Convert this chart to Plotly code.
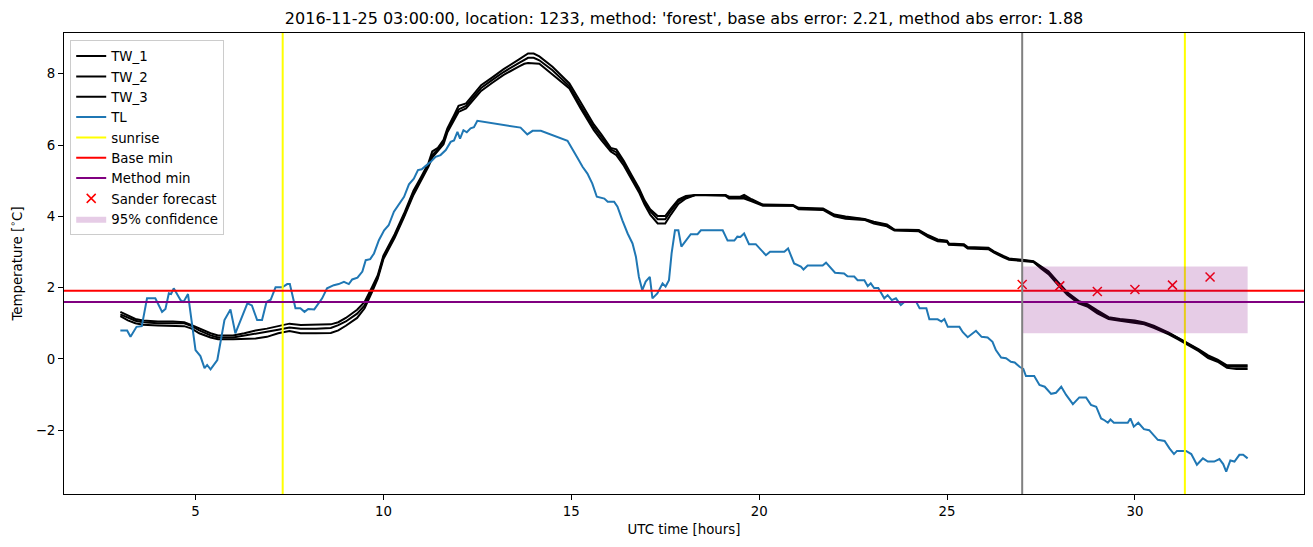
import plotly.graph_objects as go

# ---------------- data ----------------
tw_time = [3.0, 3.2, 3.4, 3.6, 4.0, 4.4, 4.7, 4.9, 5.1, 5.4, 5.6, 6.0, 6.3, 6.6, 6.9, 7.2, 7.5, 7.8, 8.2, 8.6,
           8.8, 9.0, 9.3, 9.5, 9.7, 9.85, 10.0, 10.3, 10.55, 10.8, 11.0, 11.2, 11.3, 11.45, 11.6, 11.7, 11.9,
           12.0, 12.2, 12.4, 12.6, 12.9, 13.2, 13.6, 13.75, 13.85, 14.0, 14.15, 14.5, 14.95, 15.25, 15.6,
           15.8, 16.05, 16.2, 16.4, 16.6, 16.8, 16.95, 17.1, 17.3, 17.5, 17.65, 17.85, 18.05, 18.3, 19.1,
           19.2, 19.5, 19.6, 19.8, 20.1, 20.9, 21.05, 21.7, 22.0, 22.3, 22.8, 23.05, 23.4, 23.6, 24.25,
           24.5, 24.75, 25.0, 25.05, 25.45, 25.55, 26.1, 26.25, 26.5, 26.65, 27.0, 27.3, 27.5, 27.7, 27.95,
           28.2, 28.5, 28.75, 29.0, 29.3, 29.6, 30.0, 30.25, 30.5, 30.9, 31.15, 31.4, 31.7, 31.95, 32.2,
           32.45, 32.7, 33.0]

tw_1 = [1.32, 1.22, 1.12, 1.08, 1.05, 1.05, 1.03, 0.95, 0.85, 0.72, 0.66, 0.66, 0.72, 0.8, 0.85, 0.92, 0.99,
        0.95, 0.95, 0.97, 1.03, 1.15, 1.38, 1.6, 2.02, 2.35, 2.9, 3.5, 4.08, 4.72, 5.1, 5.5, 5.82, 5.92,
        6.15, 6.46, 6.88, 7.1, 7.17, 7.42, 7.68, 7.9, 8.13, 8.4, 8.5, 8.57, 8.57, 8.49, 8.2, 7.73, 7.2,
        6.58, 6.3, 5.92, 5.88, 5.55, 5.17, 4.8, 4.45, 4.2, 4.01, 4.01, 4.22, 4.47, 4.57, 4.6, 4.6, 4.55,
        4.55, 4.6, 4.48, 4.33, 4.32, 4.24, 4.22, 4.05, 4.0, 3.93, 3.85, 3.77, 3.63, 3.62, 3.47, 3.35,
        3.32, 3.24, 3.22, 3.14, 3.12, 3.02, 2.89, 2.82, 2.78, 2.74, 2.6, 2.46, 2.16, 1.87, 1.63, 1.53,
        1.36, 1.17, 1.12, 1.08, 1.02, 0.93, 0.74, 0.6, 0.45, 0.27, 0.1, -0.02, -0.18, -0.18, -0.18]

tw_2 = [1.25, 1.15, 1.07, 1.03, 1.0, 1.0, 1.0, 0.92, 0.8, 0.66, 0.6, 0.6, 0.65, 0.7, 0.75, 0.82, 0.88, 0.85,
        0.85, 0.87, 0.95, 1.05, 1.27, 1.5, 1.95, 2.3, 2.85, 3.45, 4.03, 4.65, 5.05, 5.45, 5.72, 5.88, 6.1,
        6.4, 6.8, 7.0, 7.1, 7.35, 7.6, 7.83, 8.05, 8.3, 8.4, 8.45, 8.45, 8.38, 8.1, 7.65, 7.1, 6.5, 6.22,
        5.88, 5.8, 5.5, 5.12, 4.75, 4.4, 4.15, 3.92, 3.92, 4.15, 4.42, 4.53, 4.6, 4.6, 4.52, 4.52, 4.55,
        4.45, 4.32, 4.3, 4.22, 4.2, 4.03, 3.97, 3.92, 3.83, 3.75, 3.62, 3.6, 3.45, 3.33, 3.3, 3.22, 3.2,
        3.12, 3.1, 3.0, 2.87, 2.8, 2.77, 2.73, 2.57, 2.42, 2.12, 1.84, 1.6, 1.5, 1.32, 1.15, 1.1, 1.05,
        1.0, 0.9, 0.72, 0.58, 0.42, 0.25, 0.06, -0.05, -0.2, -0.22, -0.22]

tw_3 = [1.2, 1.08, 1.0, 0.96, 0.94, 0.94, 0.92, 0.85, 0.72, 0.6, 0.55, 0.55, 0.56, 0.57, 0.62, 0.72, 0.78,
        0.72, 0.72, 0.73, 0.8, 0.93, 1.15, 1.42, 1.88, 2.25, 2.8, 3.4, 3.98, 4.6, 5.0, 5.4, 5.65, 5.82,
        6.02, 6.35, 6.72, 6.93, 7.03, 7.28, 7.52, 7.75, 7.97, 8.2, 8.28, 8.3, 8.3, 8.28, 7.98, 7.59, 7.03,
        6.42, 6.14, 5.82, 5.72, 5.42, 5.05, 4.68, 4.33, 4.05, 3.8, 3.8, 4.05, 4.35, 4.5, 4.6, 4.58, 4.5,
        4.5, 4.5, 4.42, 4.3, 4.3, 4.2, 4.18, 4.0, 3.93, 3.9, 3.8, 3.72, 3.6, 3.58, 3.42, 3.3, 3.28, 3.2,
        3.18, 3.1, 3.08, 2.98, 2.85, 2.78, 2.75, 2.72, 2.54, 2.38, 2.08, 1.8, 1.56, 1.46, 1.28, 1.12,
        1.07, 1.02, 0.97, 0.87, 0.69, 0.55, 0.4, 0.22, 0.02, -0.08, -0.25, -0.28, -0.28]

tl_time = [3.0, 3.18, 3.27, 3.43, 3.57, 3.71, 3.93, 4.11, 4.2, 4.29, 4.35, 4.42, 4.6, 4.68, 4.8, 5.0, 5.13,
           5.24, 5.31, 5.40, 5.58, 5.66, 5.77, 5.93, 6.06, 6.38, 6.5, 6.64, 6.77, 6.89, 7.0, 7.13, 7.31, 7.44,
           7.51, 7.66, 7.79, 7.90, 8.0, 8.16, 8.28, 8.37, 8.5, 8.68, 8.81, 8.95, 9.08, 9.17, 9.31, 9.44, 9.53,
           9.65, 9.75, 9.88, 10.02, 10.14, 10.28, 10.42, 10.55, 10.68, 10.81, 10.92, 11.02, 11.12, 11.26,
           11.39, 11.52, 11.66, 11.79, 11.88, 11.97, 12.04, 12.13, 12.22, 12.32, 12.41, 12.5, 13.65, 13.83,
           13.97, 14.19, 14.9, 15.03, 15.16, 15.30, 15.43, 15.56, 15.68, 15.88, 15.97, 16.14, 16.23, 16.36,
           16.50, 16.63, 16.72, 16.80, 16.89, 16.98, 17.09, 17.16, 17.29, 17.43, 17.51, 17.60, 17.67, 17.76,
           17.85, 17.93, 18.06, 18.18, 18.36, 18.45, 19.03, 19.16, 19.34, 19.42, 19.5, 19.60, 19.73, 19.91,
           20.18, 20.29, 20.67, 20.77, 20.93, 21.11, 21.18, 21.29, 21.69, 21.78, 22.02, 22.26, 22.35, 22.53,
           22.62, 22.8, 22.89, 22.97, 23.06, 23.17, 23.33, 23.42, 23.53, 23.64, 23.77, 23.86, 24.18, 24.27,
           24.45, 24.53, 24.75, 24.85, 24.93, 25.02, 25.33, 25.42, 25.55, 25.77, 25.92, 26.08, 26.21, 26.30,
           26.44, 26.57, 26.70, 26.8, 26.93, 27.03, 27.1, 27.32, 27.46, 27.6, 27.77, 27.9, 28.04, 28.17,
           28.35, 28.52, 28.70, 28.83, 28.97, 29.10, 29.19, 29.28, 29.35, 29.44, 29.81, 29.88, 29.97, 30.09,
           30.24, 30.38, 30.61, 30.79, 30.92, 31.04, 31.12, 31.36, 31.5, 31.65, 31.81, 31.94, 32.11, 32.25,
           32.35, 32.43, 32.54, 32.65, 32.78, 32.88, 33.0]

tl = [0.8, 0.8, 0.62, 0.9, 0.92, 1.70, 1.70, 1.32, 1.4, 1.84, 1.82, 1.98, 1.65, 1.6, 1.82, 0.25, 0.08,
      -0.26, -0.17, -0.29, -0.03, 0.44, 1.09, 1.39, 0.72, 1.56, 1.5, 1.09, 1.09, 1.6, 1.66, 2.01, 2.01, 2.1,
      2.1, 1.42, 1.42, 1.32, 1.4, 1.39, 1.58, 1.70, 1.98, 2.07, 2.1, 2.16, 2.1, 2.23, 2.28, 2.45, 2.77,
      2.8, 2.96, 3.33, 3.61, 3.75, 4.13, 4.36, 4.55, 4.90, 5.06, 5.30, 5.32, 5.41, 5.53, 5.67, 5.72, 5.86,
      6.09, 6.13, 6.37, 6.18, 6.42, 6.36, 6.47, 6.5, 6.68, 6.49, 6.30, 6.40, 6.40, 6.12, 5.90, 5.65, 5.39,
      5.2, 4.92, 4.55, 4.50, 4.41, 4.41, 4.27, 3.89, 3.52, 3.24, 2.87, 2.30, 1.93, 2.17, 2.30, 1.70, 1.84,
      2.12, 2.03, 2.21, 2.96, 3.61, 3.61, 3.15, 3.35, 3.50, 3.50, 3.61, 3.61, 3.32, 3.32, 3.43, 3.42, 3.52,
      3.22, 3.22, 2.91, 3.01, 3.01, 3.10, 2.68, 2.59, 2.51, 2.62, 2.62, 2.70, 2.42, 2.40, 2.32, 2.31, 2.21,
      2.21, 2.04, 2.12, 1.99, 1.99, 1.70, 1.79, 1.65, 1.70, 1.51, 1.60, 1.60, 1.42, 1.42, 1.11, 1.11, 1.05,
      1.12, 0.90, 0.90, 0.75, 0.61, 0.79, 0.62, 0.60, 0.48, 0.25, 0.04, 0.02, -0.08, -0.1, -0.22, -0.28,
      -0.48, -0.48, -0.73, -0.78, -0.98, -0.95, -0.78, -1.01, -1.27, -1.08, -1.08, -1.29, -1.34, -1.67,
      -1.72, -1.79, -1.70, -1.79, -1.79, -1.67, -1.90, -1.79, -1.97, -2.0, -2.27, -2.30, -2.51, -2.67,
      -2.58, -2.58, -2.67, -2.97, -2.79, -2.88, -2.88, -2.81, -2.95, -3.16, -2.85, -2.88, -2.69, -2.69,
      -2.79]

sunrise_times = [7.32, 31.33]
forecast_time = 27.0
base_min = 1.91
method_min = 1.6

sander_time = [27, 28, 29, 30, 31, 32]
sander_value = [2.09, 2.05, 1.89, 1.95, 2.07, 2.30]

conf_start, conf_end = 27.0, 33.0
conf_low, conf_high = 0.72, 2.59

x_range = [1.5, 34.5]
y_range = [-3.79, 9.145]

title = "2016-11-25 03:00:00, location: 1233, method: 'forest', base abs error: 2.21, method abs error: 1.88"

# ---------------- figure ----------------
FONT = "DejaVu Sans"
fig = go.Figure()

for name, vals in [("TW_1", tw_1), ("TW_2", tw_2), ("TW_3", tw_3)]:
    fig.add_trace(go.Scatter(x=tw_time, y=vals, mode="lines", name=name,
                             line=dict(color="black", width=2)))

fig.add_trace(go.Scatter(x=tl_time, y=tl, mode="lines", name="TL",
                         line=dict(color="#1f77b4", width=2)))

sx, sy = [], []
for s in sunrise_times:
    sx += [s, s, None]
    sy += [y_range[0], y_range[1], None]
fig.add_trace(go.Scatter(x=sx, y=sy, mode="lines", name="sunrise",
                         line=dict(color="yellow", width=2)))

fig.add_trace(go.Scatter(x=x_range, y=[base_min, base_min], mode="lines", name="Base min",
                         line=dict(color="red", width=2)))
fig.add_trace(go.Scatter(x=x_range, y=[method_min, method_min], mode="lines", name="Method min",
                         line=dict(color="purple", width=2)))

fig.add_trace(go.Scatter(x=sander_time, y=sander_value, mode="markers", name="Sander forecast",
                         marker=dict(symbol="x-thin", size=9, color="red",
                                     line=dict(color="red", width=1.5))))

fig.add_trace(go.Scatter(x=[conf_start, conf_end, conf_end, conf_start, conf_start],
                         y=[conf_low, conf_low, conf_high, conf_high, conf_low],
                         mode="lines", fill="toself", name="95% confidence",
                         fillcolor="rgba(128,0,128,0.2)", line=dict(width=0, color="rgba(0,0,0,0)")))

fig.add_shape(type="line", x0=forecast_time, x1=forecast_time, y0=0, y1=1, yref="paper",
              line=dict(color="grey", width=2), layer="above")

fig.update_layout(
    width=1313, height=547,
    margin=dict(l=64, r=9, t=33, b=53),
    paper_bgcolor="white", plot_bgcolor="white",
    font=dict(family=FONT, size=13.33, color="black"),
    title=dict(text=title, x=0.521, xanchor="center", y=0.967, yanchor="middle",
               font=dict(family=FONT, size=16, color="black")),
    showlegend=True,
    legend=dict(x=0.005, y=0.985, xanchor="left", yanchor="top",
                bgcolor="rgba(255,255,255,0.8)", bordercolor="#cccccc", borderwidth=1,
                font=dict(family=FONT, size=13.33), tracegroupgap=0, itemwidth=30),
)

fig.update_xaxes(range=x_range, tickvals=[5, 10, 15, 20, 25, 30], showgrid=False, zeroline=False,
                 showline=True, linecolor="black", linewidth=1, mirror=True,
                 ticks="outside", ticklen=5, tickcolor="black",
                 title=dict(text="UTC time [hours]", font=dict(family=FONT, size=13.33), standoff=6))
fig.update_yaxes(range=y_range, tickvals=[-2, 0, 2, 4, 6, 8], showgrid=False, zeroline=False,
                 showline=True, linecolor="black", linewidth=1, mirror=True,
                 ticks="outside", ticklen=5, tickcolor="black",
                 title=dict(text="Temperature [<sup>∘</sup>C]", font=dict(family=FONT, size=13.33), standoff=10))

fig.write_html("out.html")
